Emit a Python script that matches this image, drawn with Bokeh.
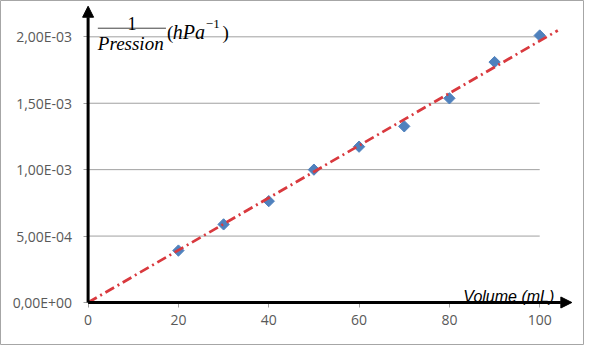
import numpy as np
from bokeh.plotting import figure
from bokeh.models import LinearAxis, FixedTicker, Range1d, Label, Arrow, NormalHead
from bokeh.embed import file_html
from bokeh.resources import INLINE

# ---- data ----
volume = [20, 30, 40, 50, 60, 70, 80, 90, 100]
inv_pression = [3.91e-4, 5.88e-4, 7.63e-4, 1.0e-3, 1.173e-3, 1.326e-3, 1.537e-3, 1.81e-3, 2.01e-3]
x_ticks = [0, 20, 40, 60, 80, 100]
y_ticks = [0, 5e-4, 1e-3, 1.5e-3, 2e-3]
y_tick_labels = ["0,00E+00", "5,00E-04", "1,00E-03", "1,50E-03", "2,00E-03"]
x_label = "Volume (mL)"

# ---- layout: reference-image pixel -> data mapping ----
W, H = 584, 345
REF_W, REF_H = 600, 361
X0, XS = 90.0, 4.64        # ref px of x=0, ref px per mL
Y0, YS = 316.0, 139000.0   # ref px of y=0, ref px per unit

def dx(px):
    return (px - X0) / XS

def dy(py):
    return (Y0 - py) / YS

x_range = Range1d(dx(0), dx(REF_W))
y_range = Range1d(dy(REF_H), dy(0))

p = figure(width=W, height=H, x_range=x_range, y_range=y_range,
           x_axis_type=None, y_axis_type=None,
           output_backend="svg", toolbar_location=None, min_border=0,
           background_fill_color="white", border_fill_color="white",
           outline_line_color="#a6a6a6", outline_line_width=1)

GRAY_TXT = "#595959"

yaxis = LinearAxis(fixed_location=0, ticker=FixedTicker(ticks=y_ticks),
                   major_label_overrides={float(k): v for k, v in zip(y_ticks, y_tick_labels)},
                   axis_line_color=None, major_tick_line_color="#a0a0a0",
                   major_tick_out=5, major_tick_in=0, minor_tick_line_color=None,
                   major_label_text_font="Open Sans", major_label_text_font_size="14px",
                   major_label_text_color=GRAY_TXT, major_label_standoff=11)
p.add_layout(yaxis, "left")

xaxis = LinearAxis(fixed_location=0, ticker=FixedTicker(ticks=x_ticks),
                   axis_line_color=None, major_tick_line_color="#a0a0a0",
                   major_tick_out=5, major_tick_in=0, minor_tick_line_color=None,
                   major_label_text_font="Open Sans", major_label_text_font_size="14px",
                   major_label_text_color=GRAY_TXT, major_label_standoff=8)
p.add_layout(xaxis, "below")

# gridlines (end at last x tick)
gy = y_ticks[1:]
p.segment(x0=[x_ticks[0]] * len(gy), x1=[x_ticks[-1]] * len(gy), y0=gy, y1=gy,
          line_color="#a0a0a0", line_width=1)

# axes arrows
p.add_layout(Arrow(end=NormalHead(size=11, fill_color="black", line_color="black"),
                   x_start=0, y_start=0, x_end=dx(587), y_end=0,
                   line_width=3, line_color="black"))
p.add_layout(Arrow(end=NormalHead(size=11, fill_color="black", line_color="black"),
                   x_start=0, y_start=0, x_end=0, y_end=dy(6),
                   line_width=3, line_color="black"))

# data points
p.scatter(volume, inv_pression, marker="square", angle=np.pi / 4, size=8,
          fill_color="#4f81bd", line_color="#4f81bd")

# trend line through origin (least squares)
xv = np.array(volume, dtype=float)
yv = np.array(inv_pression)
slope = (xv * yv).sum() / (xv * xv).sum()
xt = np.array([0.0, 104.0])
p.line(xt, slope * xt, line_color="#d9393e", line_width=2.75, line_dash="10 4 2 4")

# axis titles
p.add_layout(Label(x=dx(569), y=dy(310), text=x_label, text_align="right",
                   text_baseline="alphabetic", text_font="Liberation Sans",
                   text_font_style="italic", text_font_size="16px", text_color="black"))

SERIF = "Liberation Serif"
p.add_layout(Label(x=dx(135), y=dy(24), text="1", text_align="center",
                   text_baseline="alphabetic", text_font=SERIF,
                   text_font_size="18px", text_color="black"))
p.line([dx(100), dx(170)], [dy(29), dy(29)], line_color="#404040", line_width=1)
p.add_layout(Label(x=dx(100), y=dy(45), text="Pression", text_align="left",
                   text_baseline="alphabetic", text_font=SERIF, text_font_style="italic",
                   text_font_size="19px", text_color="black"))
p.add_layout(Label(x=dx(171), y=dy(33), text="(", text_align="left",
                   text_baseline="alphabetic", text_font=SERIF,
                   text_font_size="19px", text_color="black"))
p.add_layout(Label(x=dx(177), y=dy(33), text="hPa", text_align="left",
                   text_baseline="alphabetic", text_font=SERIF, text_font_style="italic",
                   text_font_size="20px", text_color="black"))
p.add_layout(Label(x=dx(211), y=dy(25), text="\u22121", text_align="left",
                   text_baseline="alphabetic", text_font=SERIF,
                   text_font_size="13px", text_color="black"))
p.add_layout(Label(x=dx(228), y=dy(33), text=")", text_align="left",
                   text_baseline="alphabetic", text_font=SERIF,
                   text_font_size="19px", text_color="black"))

open("out.html", "w").write(file_html(p, INLINE))
